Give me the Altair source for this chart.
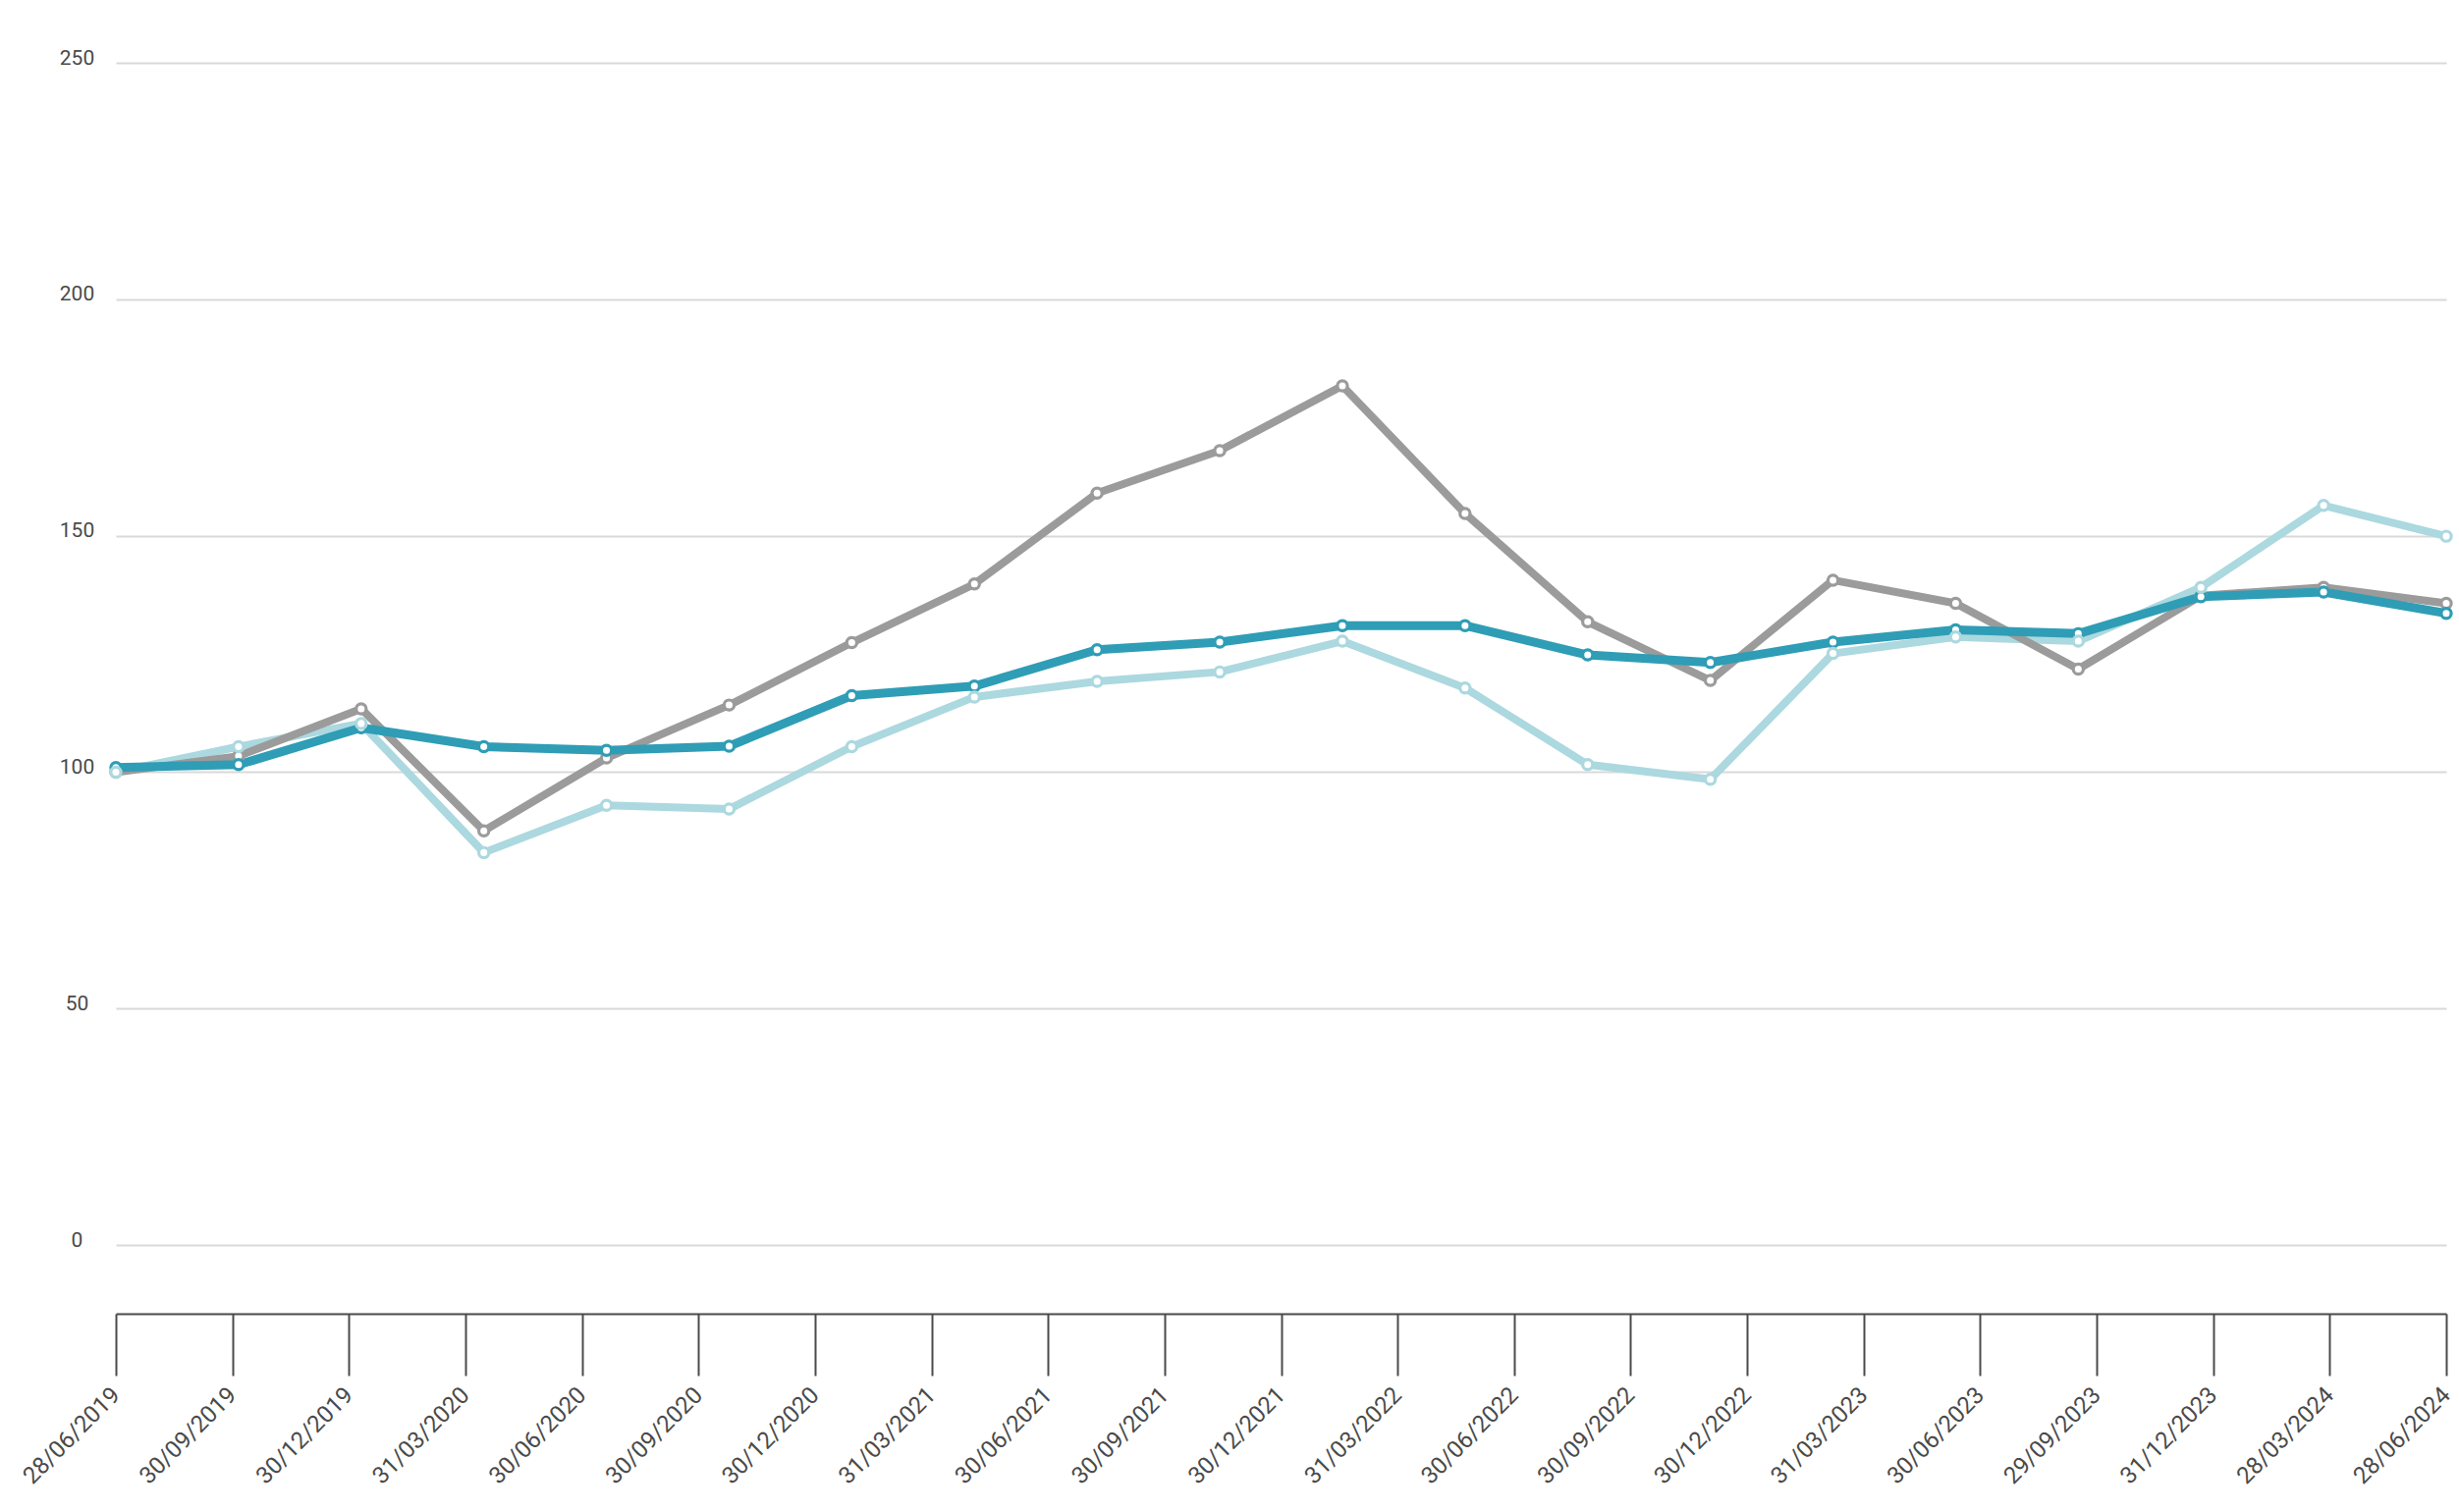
import altair as alt
import pandas as pd

tick_labels = [
    "28/06/2019", "30/09/2019", "30/12/2019", "31/03/2020", "30/06/2020",
    "30/09/2020", "30/12/2020", "31/03/2021", "30/06/2021", "30/09/2021",
    "30/12/2021", "31/03/2022", "30/06/2022", "30/09/2022", "30/12/2022",
    "31/03/2023", "30/06/2023", "29/09/2023", "31/12/2023", "28/03/2024",
    "28/06/2024",
]

grey_values = [100, 103.4, 113.4, 87.6, 103.0, 114.2, 127.4, 139.8, 159.0, 168.0,
               181.7, 154.7, 131.8, 119.4, 140.6, 135.7, 121.8, 137.3, 139.1, 135.7]
light_values = [100, 105.4, 110.3, 83.0, 93.0, 92.2, 105.4, 115.9, 119.2, 121.2,
                127.7, 117.8, 101.6, 98.5, 125.1, 128.6, 127.7, 139.1, 156.4, 149.9]
dark_values = [101, 101.6, 109.4, 105.4, 104.6, 105.5, 116.2, 118.2, 125.9, 127.5,
               131.0, 131.0, 124.8, 123.2, 127.5, 130.1, 129.3, 137.1, 138.1, 133.6]

series = {"grey": grey_values, "light": light_values, "dark": dark_values}
colors = {"grey": "#9b9b9b", "light": "#acd8df", "dark": "#2f9db5"}
widths = {"grey": 8, "light": 8, "dark": 9}

rows = []
for name, vals in series.items():
    for i, v in enumerate(vals):
        rows.append({"series": name, "idx": i, "value": v})
df = pd.DataFrame(rows)

n_pts = len(grey_values)
n_ticks = len(tick_labels)
step = (n_pts - 1) / (n_ticks - 1)
tick_values = [i * step for i in range(n_ticks)]
label_expr = "[" + ",".join("'%s'" % t for t in tick_labels) + "][round(datum.value/%r)]" % step

x_enc = alt.X(
    "idx:Q",
    scale=alt.Scale(domain=[0, n_pts - 1], nice=False, zero=False),
    axis=alt.Axis(
        values=tick_values,
        labelExpr=label_expr,
        title=None,
        grid=False,
        domainColor="#4a4a4a",
        domainWidth=2,
        tickColor="#4a4a4a",
        tickWidth=2,
        tickSize=63,
        labelAngle=-45,
        labelAlign="right",
        labelBaseline="middle",
        labelFontSize=24,
        labelColor="#4a4a4a",
        labelPadding=16,
        labelFont="Roboto",
        labelOverlap=False,
    ),
)
y_enc = alt.Y(
    "value:Q",
    scale=alt.Scale(domain=[-14.5, 250], nice=False, zero=False),
    axis=alt.Axis(
        values=[0, 50, 100, 150, 200, 250],
        title=None,
        grid=True,
        gridColor="#d9d9d9",
        gridWidth=2,
        domain=False,
        ticks=False,
        tickSize=0,
        labelAlign="center",
        labelBaseline="middle",
        labelPadding=40,
        labelOffset=-5,
        labelFontSize=21,
        labelColor="#4a4a4a",
        labelFont="Roboto",
    ),
)

base = alt.Chart(df)

def line_layer(name):
    return base.transform_filter(alt.datum.series == name).mark_line(
        color=colors[name], strokeWidth=widths[name], strokeJoin="round"
    ).encode(x=x_enc, y=y_enc)

def point_layer(name):
    return base.transform_filter(alt.datum.series == name).mark_point(
        shape="circle", filled=True, fill="white", stroke=colors[name],
        strokeWidth=3.2, size=105, opacity=1
    ).encode(x=x_enc, y=y_enc)

chart = alt.layer(
    line_layer("light"), line_layer("grey"), line_layer("dark"),
    point_layer("grey"), point_layer("dark"), point_layer("light"),
).properties(
    width=2373,
    height=1274,
    autosize=alt.AutoSizeParams(type="none"),
    padding={"left": 118, "top": 64, "right": 13, "bottom": 202},
    background="white",
).configure(font="Roboto").configure_view(strokeWidth=0, stroke=None)

chart.save("out.html", embed_options={"renderer": "svg", "actions": False})
